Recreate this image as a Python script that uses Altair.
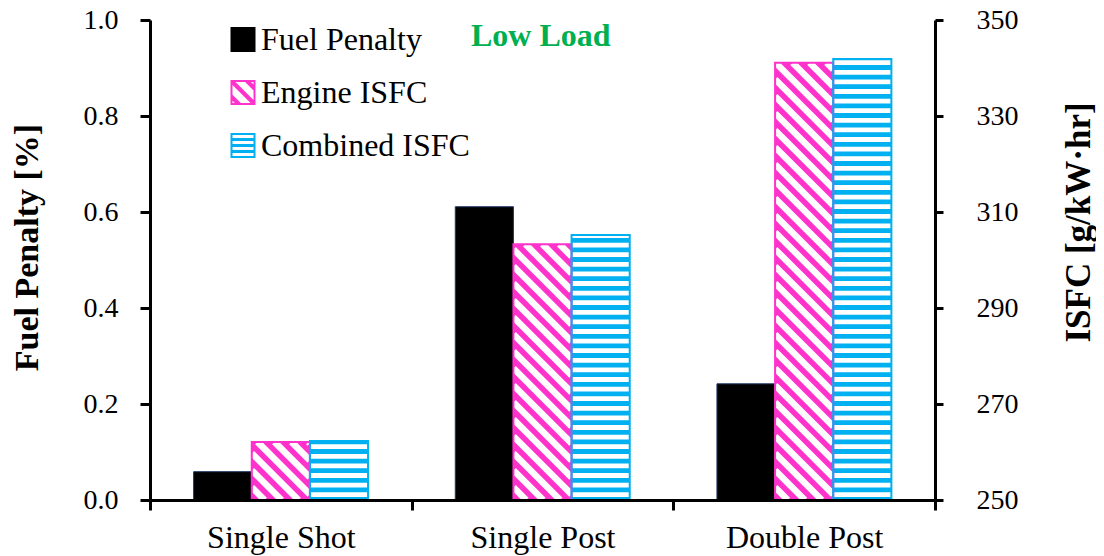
import altair as alt
import pandas as pd

# ---------------- data ----------------
categories = ["Single Shot", "Single Post", "Double Post"]
series = ["Fuel Penalty", "Engine ISFC", "Combined ISFC"]
fuel_penalty = [0.059, 0.611, 0.242]
engine_isfc = [262.1, 303.3, 341.1]
combined_isfc = [262.3, 305.2, 341.9]

fp_ticks = [0.0, 0.2, 0.4, 0.6, 0.8, 1.0]
isfc_ticks = [250, 270, 290, 310, 330, 350]

# ---------------- styling / layout ----------------
FONT = "Liberation Serif"
BLACK, PINK, BLUE, NAVY, GREEN = "#000000", "#FF33CC", "#00B0F0", "#1F3864", "#00B050"
W, H = 785, 480
X_DOM = [0, 3]
FP_DOM = [0, 1]
ISFC_DOM = [250, 350]
BAR = 2 / 9                      # one bar width in x units (group = 1 unit)
px_x = W / (X_DOM[1] - X_DOM[0])
px_y = H / (ISFC_DOM[1] - ISFC_DOM[0])

centers = [i + 0.5 for i in range(len(categories))]

bars = pd.DataFrame({
    "category": categories,
    "center": centers,
    "fp": fuel_penalty,
    "eng": engine_isfc,
    "comb": combined_isfc,
})
bars["fp_x0"] = bars["center"] - 1.5 * BAR
bars["fp_x1"] = bars["center"] - 0.5 * BAR
bars["en_x0"] = bars["center"] - 0.5 * BAR
bars["en_x1"] = bars["center"] + 0.5 * BAR
bars["co_x0"] = bars["center"] + 0.5 * BAR
bars["co_x1"] = bars["center"] + 1.5 * BAR
bars["fp_base"] = FP_DOM[0]
bars["isfc_base"] = ISFC_DOM[0]

# horizontal white stripes inside the combined ISFC bars
H_PERIOD, H_WHITE, H_OFF = 2.0, 1.0, 0.6
hrows = []
for _, r in bars.iterrows():
    y0 = ISFC_DOM[0] + H_OFF
    while y0 < r["comb"]:
        hrows.append({"x0": r["co_x0"], "x1": r["co_x1"], "y0": y0,
                      "y1": min(y0 + H_WHITE, r["comb"])})
        y0 += H_PERIOD
hstripes = pd.DataFrame(hrows)

# diagonal white stripes ("\") inside the engine ISFC bars
D_PERIOD = 17.0   # horizontal period in px
D_WIDTH = 6.5     # white stroke width in px
drows = []
for _, r in bars.iterrows():
    w = BAR * px_x
    h = (r["eng"] - ISFC_DOM[0]) * px_y
    c = D_PERIOD * 0.75
    while c < w + h:
        X0, X1 = max(0.0, c - h), min(w, c)
        drows.append({
            "x0": r["en_x0"] + X0 / px_x, "y0": ISFC_DOM[0] + (c - X0) / px_y,
            "x1": r["en_x0"] + X1 / px_x, "y1": ISFC_DOM[0] + (c - X1) / px_y,
        })
        c += D_PERIOD
dstripes = pd.DataFrame(drows)

# legend swatch shapes (unit square -1..1)
def fmt(v):
    return f"{v:.3f}"

def clip(poly, fn):
    out = []
    n = len(poly)
    for i in range(n):
        p, q = poly[i], poly[(i + 1) % n]
        fp_, fq = fn(p), fn(q)
        if fp_ >= 0:
            out.append(p)
        if (fp_ >= 0) != (fq >= 0):
            t = fp_ / (fp_ - fq)
            out.append((p[0] + t * (q[0] - p[0]), p[1] + t * (q[1] - p[1])))
    return out

def poly_path(poly):
    return "M" + "L".join(f"{fmt(x)},{fmt(y)}" for x, y in poly) + "Z"

f = 0.84
ring = f"M-1,-1H1V1H-1ZM-{f},-{f}V{f}H{f}V-{f}Z"
square_path = "M-1,-1H1V1H-1Z"
blue_path = ring
for yb in [(-0.60, -0.36), (-0.12, 0.12), (0.36, 0.60)]:
    blue_path += f"M-{f},{yb[0]}H{f}V{yb[1]}H-{f}Z"
pink_path = ring
inner = [(-f, -f), (f, -f), (f, f), (-f, f)]
for cc in [-1.25, 0.0, 1.25]:
    a, b = cc - 0.24, cc + 0.24
    pg = clip(inner, lambda p, a=a: (p[0] - p[1]) - a)
    pg = clip(pg, lambda p, b=b: b - (p[0] - p[1]))
    if len(pg) >= 3:
        pink_path += poly_path(pg)

legend_df = pd.DataFrame({"series": series, "x": centers, "y": [0.0] * 3})

# ---------------- scales & axes ----------------
xscale = alt.Scale(domain=X_DOM, nice=False, zero=False)
label_expr = " : ".join(
    f"datum.value == {c} ? '{n}'" for c, n in zip(centers, categories)) + " : ''"
xaxis = alt.Axis(
    orient="bottom", values=[0, 0.5, 1, 1.5, 2, 2.5, 3], labelExpr=label_expr,
    tickColor={"condition": {"test": "datum.value % 1 != 0", "value": "transparent"},
               "value": "black"},
    tickSize=10, tickWidth=3, domainWidth=3, domainColor="black",
    labelFont=FONT, labelFontSize=32, labelColor="black", labelPadding=37,
    labelBaseline="alphabetic",
    labelOverlap=False, labelFlush=False, grid=False, title=None, zindex=1)

isfc_scale = alt.Scale(domain=ISFC_DOM, nice=False, zero=False)
fp_scale = alt.Scale(domain=FP_DOM, nice=False, zero=False)

isfc_axis = alt.Axis(
    orient="right", values=isfc_ticks, format="d", tickSize=8, tickWidth=3,
    tickColor="black", domainWidth=3, domainColor="black",
    labelFont=FONT, labelFontSize=28, labelColor="black", labelPadding=33,
    grid=False, zindex=1,
    title="ISFC [g/kW·hr]", titleFont=FONT, titleFontSize=35, titleFontWeight="bold",
    titleColor="black", titleAngle=270, titleAlign="center", titleBaseline="middle",
    titleX=143, titleY=202)

fp_axis = alt.Axis(
    orient="left", values=fp_ticks, format=".1f", tickSize=10, tickWidth=3,
    tickColor="black", domainWidth=3, domainColor="black",
    labelFont=FONT, labelFontSize=28, labelColor="black", labelPadding=22,
    grid=False, zindex=1,
    title="Fuel Penalty [%]", titleFont=FONT, titleFontSize=34, titleFontWeight="bold",
    titleColor="black", titleAngle=270, titleAlign="center", titleBaseline="middle",
    titleX=-123, titleY=227)

def X(field):
    return alt.X(f"{field}:Q", scale=xscale, axis=xaxis)

# ---------------- ISFC group (right axis) ----------------
pink_base = alt.Chart(bars).mark_rect(fill=PINK, strokeWidth=0).encode(
    x=X("en_x0"), x2="en_x1",
    y=alt.Y("isfc_base:Q", scale=isfc_scale, axis=isfc_axis), y2="eng")

diag = alt.Chart(dstripes).mark_rule(color="white", strokeWidth=D_WIDTH, clip=True).encode(
    x=X("x0"), x2="x1",
    y=alt.Y("y0:Q", scale=isfc_scale, axis=isfc_axis), y2="y1")

blue_base = alt.Chart(bars).mark_rect(fill=BLUE, strokeWidth=0).encode(
    x=X("co_x0"), x2="co_x1",
    y=alt.Y("isfc_base:Q", scale=isfc_scale, axis=isfc_axis), y2="comb")

horiz = alt.Chart(hstripes).mark_rect(fill="white", strokeWidth=0).encode(
    x=X("x0"), x2="x1",
    y=alt.Y("y0:Q", scale=isfc_scale, axis=isfc_axis), y2="y1")

isfc_group = alt.layer(pink_base, diag, blue_base, horiz)

# ---------------- Fuel penalty group (left axis) ----------------
black_bars = alt.Chart(bars).mark_rect(fill=BLACK, stroke=NAVY, strokeWidth=1).encode(
    x=X("fp_x0"), x2="fp_x1",
    y=alt.Y("fp_base:Q", scale=fp_scale, axis=fp_axis), y2="fp")

legend = alt.Legend(
    orient="none", legendX=77, legendY=3.5, padding=0,
    title="Low Load", titleOrient="right", titleAnchor="start",
    titleBaseline="line-top", titleLineHeight=26,
    titleFont=FONT, titleFontSize=32, titleFontWeight="bold", titleColor=GREEN,
    titlePadding=1,
    labelFont=FONT, labelFontSize=32, labelColor="black", labelLimit=400,
    labelOffset=2, symbolSize=625, symbolStrokeWidth=0, symbolOpacity=1,
    rowPadding=21)

legend_layer = alt.Chart(legend_df).mark_point(
    filled=True, size=0, opacity=1, strokeWidth=0).encode(
    x=X("x"),
    y=alt.Y("y:Q", scale=fp_scale, axis=fp_axis),
    color=alt.Color("series:N", scale=alt.Scale(domain=series, range=[BLACK, PINK, BLUE]),
                    legend=legend),
    shape=alt.Shape("series:N", scale=alt.Scale(domain=series,
                    range=[square_path, pink_path, blue_path]), legend=legend))

fp_group = alt.layer(black_bars, legend_layer)

# ---------------- outlines (ISFC scale, no axis) ----------------
pink_outline = alt.Chart(bars).mark_rect(fillOpacity=0, stroke=PINK, strokeWidth=2).encode(
    x=X("en_x0"), x2="en_x1",
    y=alt.Y("isfc_base:Q", scale=isfc_scale, axis=None), y2="eng")
blue_outline = alt.Chart(bars).mark_rect(fillOpacity=0, stroke=BLUE, strokeWidth=2).encode(
    x=X("co_x0"), x2="co_x1",
    y=alt.Y("isfc_base:Q", scale=isfc_scale, axis=None), y2="comb")
outline_group = alt.layer(pink_outline, blue_outline)

chart = alt.layer(isfc_group, fp_group, outline_group).resolve_scale(
    y="independent"
).properties(
    width=W, height=H,
    autosize=alt.AutoSizeParams(type="none"),
    padding={"left": 142, "top": 12, "right": 161, "bottom": 56},
    background="white",
).configure_view(stroke=None)

chart.save("out.html", embed_options={"renderer": "svg", "actions": False})
